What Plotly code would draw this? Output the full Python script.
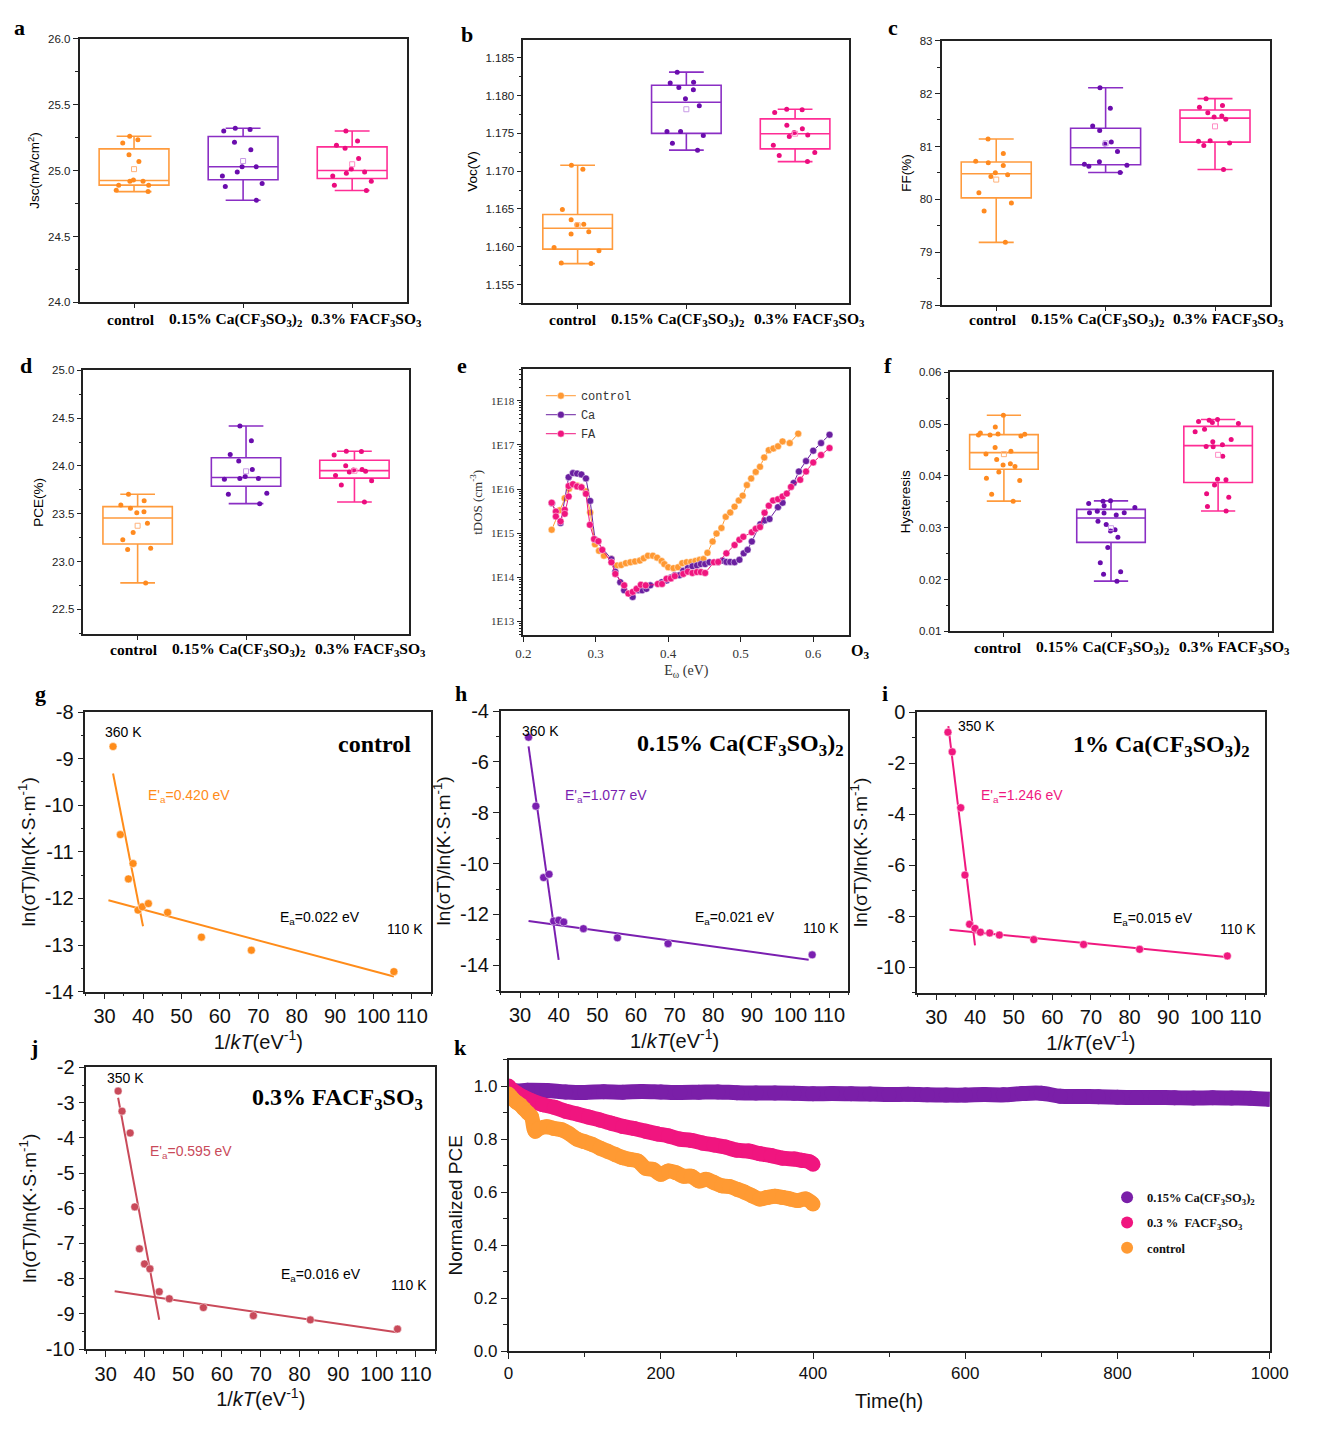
import numpy as np
import plotly.graph_objects as go

W, H = 1322, 1430

# ---------------- data ----------------
group_names = ["control", "0.15% Ca(CF3SO3)2", "0.3% FACF3SO3"]
group_labels = ["<b>control</b>",
                "<b>0.15% Ca(CF<sub>3</sub>SO<sub>3</sub>)<sub>2</sub></b>",
                "<b>0.3% FACF<sub>3</sub>SO<sub>3</sub></b>"]

jsc_control = [25.26, 25.233, 25.208, 25.12, 25.068, 24.919, 24.929, 24.919, 24.889, 24.889, 24.84, 24.85]
jsc_ca = [25.31, 25.32, 25.30, 25.215, 25.158, 25.029, 25.029, 24.989, 24.959, 24.902, 24.879, 24.775]
jsc_fa = [25.30, 25.191, 25.223, 25.168, 25.091, 25.011, 24.979, 24.959, 24.989, 24.919, 24.889, 24.849]

voc_control = [1.16198, 1.16298, 1.16289, 1.16493, 1.17026, 1.17078, 1.16358, 1.16167, 1.1599, 1.15946, 1.15786, 1.15777]
voc_ca = [1.18166, 1.18075, 1.18105, 1.18175, 1.18309, 1.17958, 1.17863, 1.17525, 1.17525, 1.17472, 1.17368, 1.17277]
voc_fa = [1.17776, 1.17811, 1.17819, 1.17607, 1.17559, 1.17512, 1.17459, 1.17476, 1.17342, 1.17208, 1.17247, 1.17126]

ff_control = [80.869, 80.695, 80.720, 81.141, 80.639, 80.503, 80.466, 80.435, 80.125, 79.933, 79.784, 79.190]
ff_ca = [82.108, 81.724, 81.389, 81.302, 81.086, 81.048, 80.906, 80.714, 80.664, 80.627, 80.646, 80.509]
ff_fa = [81.903, 81.742, 81.773, 81.637, 81.575, 81.513, 81.556, 81.098, 81.110, 81.067, 81.017, 80.565]

pce_control = [23.705, 23.637, 23.592, 23.558, 23.521, 23.510, 23.401, 23.305, 23.229, 23.140, 23.127, 22.777]
pce_ca = [24.418, 24.264, 24.120, 24.051, 23.962, 23.860, 23.890, 23.870, 23.870, 23.716, 23.705, 23.606]
pce_fa = [24.151, 24.154, 24.116, 24.003, 23.901, 23.962, 23.959, 23.945, 23.938, 23.846, 23.801, 23.623]

hys_control = [0.05171, 0.04943, 0.04791, 0.04829, 0.04791, 0.04772, 0.0481, 0.04804, 0.04551, 0.04475,
               0.04424, 0.04316, 0.04209, 0.04184, 0.04234, 0.04076, 0.03911, 0.03956, 0.03646, 0.03513]
hys_ca = [0.03316, 0.03285, 0.03247, 0.03424, 0.03513, 0.03519, 0.03468, 0.03392, 0.03291, 0.03291,
          0.03063, 0.02962, 0.02937, 0.03127, 0.02816, 0.0262, 0.02323, 0.02152, 0.02101, 0.01968]
hys_fa = [0.05076, 0.05013, 0.05089, 0.05051, 0.05032, 0.04899, 0.04854, 0.04703, 0.04658, 0.04601,
          0.0457, 0.04563, 0.0438, 0.03823, 0.03924, 0.03937, 0.03658, 0.03589, 0.03411, 0.03323]

# tDOS (panel e)
tdos_control_E = [0.2392, 0.2504, 0.2572, 0.2631, 0.2685, 0.2743, 0.2802, 0.2865, 0.2923, 0.299, 0.3045, 0.3113,
                  0.3216, 0.3293, 0.3351, 0.3415, 0.3477, 0.3541, 0.3608, 0.3662, 0.372, 0.3788, 0.3847, 0.3909,
                  0.3946, 0.4, 0.4072, 0.4135, 0.4193, 0.4253, 0.4315, 0.4374, 0.4432, 0.4486, 0.4541, 0.4612,
                  0.4666, 0.4734, 0.4793, 0.4855, 0.4915, 0.4973, 0.5027, 0.5085, 0.5144, 0.5207, 0.5266, 0.5324,
                  0.5387, 0.545, 0.5514, 0.5577, 0.5676, 0.5793]
tdos_control = [1.2e15, 3.3e15, 6.2e15, 1.02e16, 1.26e16, 1.2e16, 1.12e16, 8.9e15, 2.95e15, 5.6e14, 4.0e14, 3.1e14,
                2.6e14, 1.86e14, 1.9e14, 2.1e14, 2.2e14, 2.3e14, 2.4e14, 2.7e14, 3.1e14, 3.1e14, 2.8e14, 2.35e14,
                2.0e14, 1.7e14, 1.62e14, 1.7e14, 2.1e14, 2.2e14, 2.24e14, 2.35e14, 2.5e14, 2.6e14, 3.6e14, 6.5e14,
                9.8e14, 1.32e15, 2.35e15, 2.95e15, 4.0e15, 5.5e15, 7.1e15, 1.23e16, 1.74e16, 2.45e16, 3.2e16, 5.2e16,
                7.6e16, 8.3e16, 9.3e16, 1.2e17, 1.1e17, 1.8e17]
tdos_ca_E = [0.2396, 0.2514, 0.2626, 0.2685, 0.2743, 0.2802, 0.2865, 0.2923, 0.299, 0.3216, 0.327, 0.3338, 0.3392,
             0.3509, 0.3585, 0.3639, 0.3698, 0.3752, 0.3909, 0.3977, 0.4036, 0.409, 0.4153, 0.4207, 0.427, 0.4333,
             0.4396, 0.445, 0.4509, 0.4568, 0.4689, 0.4748, 0.4802, 0.4855, 0.4915, 0.4982, 0.5041, 0.5095, 0.5153,
             0.527, 0.5329, 0.5397, 0.5514, 0.5577, 0.573, 0.5802, 0.5901, 0.6, 0.6108, 0.6225]
tdos_ca = [4.8e15, 1.7e15, 1.86e16, 2.3e16, 2.24e16, 2.14e16, 1.74e16, 5.4e15, 7.2e14, 2.6e14, 1.35e14, 7.8e13, 5.1e13,
           3.6e13, 5.1e13, 5.1e13, 5.5e13, 6.6e13, 7.8e13, 8.5e13, 1.0e14, 1.12e14, 1.12e14, 1.41e14, 1.62e14, 1.78e14,
           1.86e14, 2.0e14, 2.0e14, 2.2e14, 2.24e14, 2.4e14, 2.24e14, 2.24e14, 2.2e14, 2.5e14, 3.5e14, 4.2e14, 6.5e14,
           1.6e15, 1.95e15, 2.1e15, 3.9e15, 4.9e15, 1.38e16, 2.5e16, 4.3e16, 7.4e16, 1.1e17, 1.7e17]
tdos_fa_E = [0.2392, 0.245, 0.245, 0.2514, 0.2572, 0.2572, 0.2626, 0.2626, 0.2685, 0.2743, 0.2802, 0.2865, 0.2919,
             0.2977, 0.3036, 0.309, 0.3216, 0.327, 0.3392, 0.345, 0.3509, 0.3563, 0.3622, 0.3689, 0.3856, 0.3914,
             0.3977, 0.4036, 0.409, 0.4207, 0.427, 0.4333, 0.4396, 0.445, 0.4509, 0.463, 0.4689, 0.4802, 0.4915,
             0.4982, 0.5036, 0.5153, 0.5207, 0.5266, 0.5329, 0.5387, 0.5446, 0.5514, 0.5577, 0.5635, 0.5693, 0.582,
             0.5901, 0.6, 0.6108, 0.6225]
tdos_fa = [4.9e15, 3.1e15, 2.4e15, 1.86e15, 3.4e15, 2.75e15, 6.8e15, 1.17e16, 1.29e16, 1.15e16, 1.1e16, 7.8e15, 1.55e15,
           7.4e14, 6.6e14, 4.2e14, 2.2e14, 1.2e14, 6.6e13, 4.3e13, 4.7e13, 5.5e13, 6.8e13, 6.6e13, 7.1e13, 7.1e13,
           9.3e13, 9.5e13, 1.07e14, 1.2e14, 1.35e14, 1.26e14, 1.32e14, 1.32e14, 1.26e14, 2.2e14, 2.24e14, 3.5e14,
           5.4e14, 7.1e14, 8.3e14, 1.05e15, 1.26e15, 1.38e15, 2.9e15, 4.2e15, 5.5e15, 5.9e15, 6.8e15, 7.9e15, 1.12e16,
           1.62e16, 2.5e16, 4.0e16, 5.9e16, 8.5e16]

# Arrhenius panels (g-j)
g_invkT = [32.2, 34.1, 36.2, 37.4, 38.7, 39.8, 41.4, 46.4, 55.2, 68.2, 105.3]
g_lnsT = [-8.74, -10.63, -11.58, -11.25, -12.25, -12.18, -12.11, -12.30, -12.83, -13.11, -13.57]
h_invkT = [32.2, 34.1, 36.1, 37.5, 38.7, 40.0, 41.3, 46.4, 55.2, 68.3, 105.6]
h_lnsT = [-5.03, -7.74, -10.55, -10.42, -12.26, -12.23, -12.30, -12.56, -12.92, -13.15, -13.59]
i_invkT = [33.0, 34.1, 36.3, 37.4, 38.6, 40.0, 41.4, 43.8, 46.3, 55.2, 68.1, 82.6, 105.3]
i_lnsT = [-0.79, -1.56, -3.75, -6.39, -8.32, -8.48, -8.63, -8.66, -8.74, -8.92, -9.11, -9.30, -9.56]
j_invkT = [33.2, 34.2, 36.3, 37.5, 38.7, 40.0, 41.4, 43.8, 46.4, 55.2, 68.1, 82.8, 105.3]
j_lnsT = [-2.67, -3.24, -3.86, -5.96, -7.15, -7.58, -7.72, -8.37, -8.57, -8.82, -9.05, -9.17, -9.43]

ea_steep = [0.420, 1.077, 1.246, 0.595]
b_steep = [4.204, 29.29, 40.69, 16.894]
x_steep = [[32.2, 40.0], [32.2, 40.0], [33.1, 40.0], [33.2, 43.8]]
ea_flat = [0.022, 0.021, 0.015, 0.016]
b_flat = [-11.358, -11.584, -8.029, -7.843]
x_flat = [[31.0, 105.3], [32.2, 104.7], [33.4, 105.6], [32.3, 105.1]]

# Stability (k)
k_ca_t = [0, 10, 25, 50, 75, 100, 125, 150, 175, 200, 225, 250, 275, 300, 325, 350, 375, 400, 425, 450, 475, 500,
          525, 550, 575, 600, 625, 650, 675, 700, 725, 750, 775, 800, 825, 850, 875, 900, 925, 950, 975, 1000]
k_ca = [0.985, 0.982, 0.984, 0.983, 0.978, 0.976, 0.979, 0.977, 0.980, 0.978, 0.976, 0.977, 0.978, 0.975, 0.974,
        0.974, 0.973, 0.971, 0.972, 0.971, 0.970, 0.968, 0.969, 0.967, 0.966, 0.966, 0.968, 0.967, 0.972, 0.973,
        0.962, 0.961, 0.960, 0.958, 0.957, 0.957, 0.956, 0.955, 0.956, 0.955, 0.954, 0.950]
k_fa_t = [0, 5, 10, 20, 30, 45, 60, 75, 90, 105, 120, 135, 150, 165, 180, 195, 210, 225, 240, 255, 270, 285, 300,
          315, 330, 345, 360, 375, 385, 395, 400]
k_fa = [1.0, 0.985, 0.975, 0.958, 0.945, 0.93, 0.92, 0.905, 0.895, 0.883, 0.872, 0.86, 0.848, 0.84, 0.83, 0.82,
        0.812, 0.80, 0.795, 0.785, 0.778, 0.77, 0.758, 0.755, 0.745, 0.738, 0.728, 0.725, 0.72, 0.715, 0.705]
k_ct_t = [0, 3, 6, 10, 15, 20, 25, 30, 35, 40, 50, 60, 70, 80, 90, 100, 110, 120, 130, 140, 150, 160, 170, 180,
          190, 200, 210, 220, 230, 240, 250, 260, 270, 280, 290, 300, 310, 320, 330, 340, 350, 360, 370, 380, 390, 400]
k_ct = [0.97, 0.96, 0.95, 0.94, 0.93, 0.915, 0.90, 0.885, 0.83, 0.84, 0.847, 0.84, 0.835, 0.82, 0.80, 0.79, 0.78,
        0.766, 0.754, 0.742, 0.73, 0.723, 0.717, 0.69, 0.685, 0.667, 0.68, 0.673, 0.66, 0.66, 0.642, 0.648, 0.636,
        0.624, 0.621, 0.611, 0.60, 0.586, 0.574, 0.58, 0.584, 0.58, 0.574, 0.568, 0.574, 0.555]

# ---------------- styles ----------------
C_OR_LINE, C_OR_PT, C_OR_MEAN = "#FF9B3D", "#FF8A1F", "#FFB27A"
C_PU_LINE, C_PU_PT, C_PU_MEAN = "#8A2EC4", "#6A0DAD", "#C79AE6"
C_PK_LINE, C_PK_PT, C_PK_MEAN = "#FF2D95", "#EB0C7E", "#FF8CC4"
AXC = "#222222"
SER = "Liberation Serif"

panels = {
    1: (73, 407, 28, 296),
    2: (526, 859, 29, 297),
    3: (953, 1288, 30, 299),
    4: (77, 409, 365, 633),
    5: (526, 859, 364, 634),
    6: (962, 1290, 367, 630),
    7: (79, 432, 712, 996),
    8: (503, 858, 711, 995),
    9: (928, 1283, 712, 997),
    10: (80, 436, 1073, 1359),
    11: (511, 1288, 1065, 1361),
}

fig = go.Figure()
layout = {}


def axname(n, ax):
    return ax + ("" if n == 1 else str(n))


def base_axis():
    return dict(showline=True, linecolor=AXC, linewidth=1.5, mirror=True, showgrid=False, zeroline=False,
                ticks="outside", tickcolor=AXC, tickwidth=1.2)


for n, (x0, x1, y0, y1) in panels.items():
    xa = base_axis()
    xa.update(domain=[x0 / W, x1 / W], anchor="y" + ("" if n == 1 else str(n)))
    ya = base_axis()
    ya.update(domain=[1 - y1 / H, 1 - y0 / H], anchor="x" + ("" if n == 1 else str(n)))
    layout[axname(n, "xaxis")] = xa
    layout[axname(n, "yaxis")] = ya


def box_panel(n, datasets, yrange, dtick, minor, fmt, ytitle):
    colors = [(C_OR_LINE, C_OR_PT, C_OR_MEAN), (C_PU_LINE, C_PU_PT, C_PU_MEAN), (C_PK_LINE, C_PK_PT, C_PK_MEAN)]
    xs = "x" + ("" if n == 1 else str(n))
    ys = "y" + ("" if n == 1 else str(n))
    for i, vals in enumerate(datasets):
        lc, pc, mc = colors[i]
        fig.add_trace(go.Box(y=vals, x0=i, xaxis=xs, yaxis=ys, boxpoints="all", jitter=0.8, pointpos=0,
                             width=0.64, whiskerwidth=0.5, quartilemethod="exclusive",
                             line=dict(color=lc, width=1.6), fillcolor="rgba(255,255,255,0)",
                             marker=dict(color=pc, size=5), showlegend=False, name=group_names[i],
                             hoverinfo="skip"))
        fig.add_trace(go.Scatter(x=[i], y=[float(np.mean(vals))], xaxis=xs, yaxis=ys, mode="markers",
                                 marker=dict(symbol="square-open", size=5, color=mc, line=dict(width=1)),
                                 showlegend=False, hoverinfo="skip"))
    layout[axname(n, "xaxis")].update(range=[-0.5, 2.5], tickvals=[0, 1, 2], showticklabels=False, ticklen=4)
    layout[axname(n, "yaxis")].update(range=yrange, dtick=dtick, tick0=0, tickformat=fmt, ticklen=5,
                                      minor=dict(dtick=minor, ticks="outside", ticklen=3, tickcolor=AXC),
                                      tickfont=dict(family="Liberation Sans", size=11.5, color="#222"),
                                      title=dict(text=ytitle, font=dict(family="Liberation Sans", size=13.5,
                                                                        color="black"), standoff=5))


box_panel(1, [jsc_control, jsc_ca, jsc_fa], [24.0, 26.0], 0.5, 0.25, ".1f", "Jsc(mA/cm<sup>2</sup>)")
box_panel(2, [voc_control, voc_ca, voc_fa], [1.1525, 1.1874], 0.005, 0.0025, ".3f", "Voc(V)")
box_panel(3, [ff_control, ff_ca, ff_fa], [78, 83], 1, 0.5, "d", "FF(%)")
box_panel(4, [pce_control, pce_ca, pce_fa], [22.24, 25.0], 0.5, 0.25, ".1f", "PCE(%)")
box_panel(6, [hys_control, hys_ca, hys_fa], [0.01, 0.06], 0.01, 0.005, ".2f", "Hysteresis")

# ---- panel e ----
e_series = [("control", tdos_control_E, tdos_control, "#FF9933"),
            ("Ca", tdos_ca_E, tdos_ca, "#6A1FA0"),
            ("FA", tdos_fa_E, tdos_fa, "#F0157F")]
for name, ex, ey, col in e_series:
    fig.add_trace(go.Scatter(x=ex, y=ey, xaxis="x5", yaxis="y5", mode="lines+markers", name=name,
                             line=dict(color=col, width=1),
                             marker=dict(color=col, size=7, line=dict(color="rgba(255,255,255,0.6)", width=0.8)),
                             legend="legend", hoverinfo="skip"))
minor_log = [m * 10.0 ** d for d in range(12, 19) for m in range(2, 10)]
layout["xaxis5"].update(range=[0.2, 0.65], tickvals=[0.2, 0.3, 0.4, 0.5, 0.6], tickformat=".1f", ticklen=5,
                        tickfont=dict(family=SER, size=13, color="#333"),
                        title=dict(text="E<sub>ω</sub> (eV)", font=dict(family=SER, size=14, color="#333"),
                                   standoff=6))
layout["yaxis5"].update(type="log", range=[12.69, 18.71],
                        tickvals=[1e13, 1e14, 1e15, 1e16, 1e17, 1e18],
                        ticktext=["1E13", "1E14", "1E15", "1E16", "1E17", "1E18"], ticklen=5,
                        minor=dict(tickvals=minor_log, ticks="outside", ticklen=3, tickcolor=AXC),
                        tickfont=dict(family=SER, size=11, color="#333"),
                        title=dict(text="tDOS (cm<sup>-3</sup>)", font=dict(family=SER, size=13, color="#333"),
                                   standoff=6))

# ---- panels g-j ----
arr_panels = [(7, g_invkT, g_lnsT, "#FF8C1A", [-14, -8], 1, 0.5),
              (8, h_invkT, h_lnsT, "#7A1FB0", [-15, -4], 2, 1),
              (9, i_invkT, i_lnsT, "#F0187F", [-11, 0], 2, 1),
              (10, j_invkT, j_lnsT, "#C94A5A", [-10, -2], 1, 0.5)]
for k_idx, (n, xv, yv, col, yr, dt, mn) in enumerate(arr_panels):
    xs, ys = "x%d" % n, "y%d" % n
    xsl = np.array(x_steep[k_idx])
    xfl = np.array(x_flat[k_idx])
    fig.add_trace(go.Scatter(x=xsl, y=b_steep[k_idx] - ea_steep[k_idx] * xsl, xaxis=xs, yaxis=ys, mode="lines",
                             line=dict(color=col, width=2), showlegend=False, hoverinfo="skip"))
    fig.add_trace(go.Scatter(x=xfl, y=b_flat[k_idx] - ea_flat[k_idx] * xfl, xaxis=xs, yaxis=ys, mode="lines",
                             line=dict(color=col, width=2), showlegend=False, hoverinfo="skip"))
    fig.add_trace(go.Scatter(x=xv, y=yv, xaxis=xs, yaxis=ys, mode="markers",
                             marker=dict(color=col, size=8, line=dict(color="rgba(255,255,255,0.5)", width=1)),
                             showlegend=False, hoverinfo="skip"))
    ytv = [v for v in range(int(yr[0]), int(yr[1]) + 1) if v % dt == 0]
    layout["xaxis%d" % n].update(range=[25, 115], dtick=10, tick0=0, ticklen=6,
                                 minor=dict(dtick=5, ticks="outside", ticklen=3, tickcolor=AXC),
                                 tickfont=dict(family="Liberation Sans", size=20, color="#111"),
                                 title=dict(text="1/<i>kT</i>(eV<sup>-1</sup>)",
                                            font=dict(family="Liberation Sans", size=20, color="#111"), standoff=6))
    layout["yaxis%d" % n].update(range=yr, tickvals=ytv, ticktext=[str(v) for v in ytv], ticklen=6,
                                 minor=dict(dtick=mn, ticks="outside", ticklen=3, tickcolor=AXC),
                                 tickfont=dict(family="Liberation Sans", size=20, color="#111"),
                                 title=dict(text="ln(σT)/ln(K·S·m<sup>-1</sup>)",
                                            font=dict(family="Liberation Sans", size=19, color="#111"), standoff=4))

# ---- panel k ----
k_series = [("<b>0.15% Ca(CF<sub>3</sub>SO<sub>3</sub>)<sub>2</sub></b>", k_ca_t, k_ca, "#7A1FA8"),
            ("<b>0.3 %  FACF<sub>3</sub>SO<sub>3</sub></b>", k_fa_t, k_fa, "#F0157F"),
            ("<b>control</b>", k_ct_t, k_ct, "#FF9A33")]
for gi, (name, kt, kv, col) in enumerate(k_series):
    fig.add_trace(go.Scatter(x=kt, y=kv, xaxis="x11", yaxis="y11", mode="lines",
                             line=dict(color=col, width=15, shape="spline"), showlegend=False, hoverinfo="skip"))
    fig.add_trace(go.Scatter(x=kt, y=kv, xaxis="x11", yaxis="y11", mode="markers", name=name,
                             marker=dict(color=col, size=15), legend="legend2", legendgroup="k%d" % gi,
                             hoverinfo="skip"))
layout["xaxis11"].update(range=[0, 1000], dtick=200, tick0=0, ticklen=6,
                         minor=dict(dtick=100, ticks="outside", ticklen=4, tickcolor=AXC),
                         tickfont=dict(family="Liberation Sans Narrow, Liberation Sans", size=17, color="#111"),
                         title=dict(text="Time(h)", font=dict(family="Liberation Sans Narrow, Liberation Sans",
                                                              size=20, color="#111"), standoff=12))
layout["yaxis11"].update(range=[0, 1.1], dtick=0.2, tick0=0, tickformat=".1f", ticklen=6,
                         minor=dict(dtick=0.1, ticks="outside", ticklen=4, tickcolor=AXC),
                         tickfont=dict(family="Liberation Sans Narrow, Liberation Sans", size=17, color="#111"),
                         title=dict(text="Normalized PCE", font=dict(family="Liberation Sans", size=19,
                                                                     color="#111"), standoff=6))


# ---------------- annotations ----------------
def ann(text, x, y, size=14, color="black", family="Liberation Sans", xanchor="center"):
    return dict(text=text, x=x / W, y=1 - y / H, xref="paper", yref="paper", showarrow=False,
                font=dict(size=size, color=color, family=family), xanchor=xanchor, yanchor="middle")


anns = []
for letter, lx, ly in [("a", 12, 17), ("b", 469, 24), ("c", 903, 17), ("d", 18, 360), ("e", 463, 360),
                       ("f", 898, 360), ("g", 33, 693), ("h", 462, 693), ("i", 895, 693), ("j", 27, 1053),
                       ("k", 462, 1053)]:
    anns.append(ann("<b>%s</b>" % letter, lx, ly, size=22, family=SER))
anns.append(ann("<b>O<sub>3</sub></b>", 870, 650, size=16, family=SER))

# category labels under the box panels
cat_label_pos = [((126, 232, 366), 313), ((577, 683, 818), 313), ((1006, 1112, 1246), 313),
                 ((129, 235, 370), 648), ((1011, 1117, 1252), 646)]
for xs_, yl in cat_label_pos:
    for lab, xl in zip(group_labels, xs_):
        anns.append(ann(lab, xl, yl, size=15.5, family=SER))

anns += [
    ann("360 K", 118, 732, 14), ann("<b>control</b>", 374, 744, 24, family=SER),
    ann("E'<sub>a</sub>=0.420 eV", 185, 797, 14, color="#FF8C1A"), ann("E<sub>a</sub>=0.022 eV", 318, 921, 14),
    ann("110 K", 405, 932, 14),
    ann("360 K", 544, 731, 14), ann("<b>0.15% Ca(CF<sub>3</sub>SO<sub>3</sub>)<sub>2</sub></b>", 748, 745, 24, family=SER),
    ann("E'<sub>a</sub>=1.077 eV", 610, 797, 14, color="#7A1FB0"), ann("E<sub>a</sub>=0.021 eV", 742, 921, 14),
    ann("110 K", 830, 931, 14),
    ann("350 K", 989, 726, 14), ann("<b>1% Ca(CF<sub>3</sub>SO<sub>3</sub>)<sub>2</sub></b>", 1178, 746, 24, family=SER),
    ann("E'<sub>a</sub>=1.246 eV", 1035, 797, 14, color="#F0187F"), ann("E<sub>a</sub>=0.015 eV", 1169, 922, 14),
    ann("110 K", 1256, 932, 14),
    ann("350 K", 120, 1084, 14), ann("<b>0.3% FACF<sub>3</sub>SO<sub>3</sub></b>", 336, 1105, 24, family=SER),
    ann("E'<sub>a</sub>=0.595 eV", 187, 1159, 14, color="#C94A5A"), ann("E<sub>a</sub>=0.016 eV", 320, 1284, 14),
    ann("110 K", 409, 1294, 14),
]

layout.update(
    width=W, height=H, margin=dict(l=0, r=0, t=0, b=0), paper_bgcolor="white", plot_bgcolor="white",
    boxmode="overlay", annotations=anns,
    legend=dict(x=544 / W, y=1 - 376 / H, xanchor="left", yanchor="top", bgcolor="rgba(0,0,0,0)",
                font=dict(family="Liberation Mono", size=12, color="#333"), tracegroupgap=0),
    legend2=dict(x=1122 / W, y=1 - 1190 / H, xanchor="left", yanchor="top", bgcolor="rgba(0,0,0,0)",
                 font=dict(family=SER, size=12.5, color="#111"), itemsizing="constant", tracegroupgap=6),
)
fig.update_layout(**layout)

page_fix = (
    "var s=document.createElement('style');"
    "s.innerHTML='html,body{margin:0!important;padding:0!important;overflow:hidden!important;}';"
    "document.head.appendChild(s);"
    "var d=document.getElementById('{plot_id}');"
    "if(d){d.style.position='absolute';d.style.left='0px';d.style.top='0px';}"
)
fig.write_html("out.html", config={"displayModeBar": False, "responsive": False}, post_script=page_fix)
